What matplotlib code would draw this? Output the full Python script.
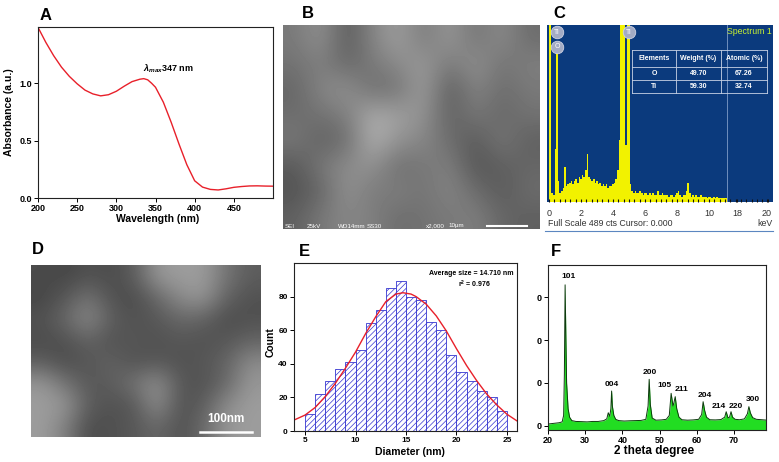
import matplotlib
matplotlib.use('Agg')
import matplotlib.pyplot as plt
import numpy as np

plt.rcParams['font.family'] = ['Liberation Sans', 'DejaVu Sans']
plt.rcParams['font.weight'] = 'bold'
plt.rcParams['axes.labelweight'] = 'bold'
plt.rcParams['mathtext.fontset'] = 'custom'
plt.rcParams['mathtext.rm'] = 'Liberation Sans:bold'
plt.rcParams['mathtext.it'] = 'Liberation Sans:italic:bold'
plt.rcParams['mathtext.bf'] = 'Liberation Sans:bold'
plt.rcParams['hatch.linewidth'] = 0.5

# ---- A: UV-Vis ----
uv_wavelength = [200, 210, 220, 230, 240, 250, 260, 270, 280, 290, 300, 310, 320, 330,
                 335, 340, 345, 350, 360, 370, 380, 390, 400, 410, 420, 430, 440, 450,
                 460, 470, 480, 490, 500]
uv_absorbance = [1.487, 1.356, 1.24, 1.14, 1.06, 0.995, 0.94, 0.907, 0.89, 0.90, 0.93,
                 0.974, 1.014, 1.035, 1.04, 1.03, 1.0, 0.965, 0.835, 0.66, 0.47, 0.29,
                 0.15, 0.095, 0.075, 0.07, 0.08, 0.093, 0.10, 0.105, 0.106, 0.104, 0.103]

# ---- B: SEM brightness (rows top -> bottom) ----
sem_gray = [
    [120, 140, 95, 130, 150, 120, 145, 115, 135, 110],
    [115, 125, 105, 120, 135, 145, 120, 140, 115, 125],
    [105, 130, 140, 110, 115, 150, 95, 130, 110, 120],
    [110, 115, 125, 160, 150, 140, 100, 120, 105, 115],
    [120, 100, 110, 165, 140, 130, 110, 95, 120, 100],
    [95, 120, 135, 140, 110, 120, 125, 90, 100, 105],
    [90, 105, 140, 120, 125, 115, 130, 110, 95, 110],
    [100, 120, 130, 125, 110, 115, 120, 125, 105, 100],
]

# ---- C: EDS spectrum, channels of 0.1 keV from 0.0 keV (% of full scale) ----
eds_counts = [
    120, 120, 5, 4, 30, 86, 12, 5, 6, 8,
    20, 9, 10, 11, 12, 10, 12, 13, 11, 14,
    13, 15, 14, 18, 27, 14, 13, 12, 13, 11,
    12, 10, 11, 9, 10, 9, 10, 8, 9, 9,
    10, 11, 13, 18, 35, 120, 120, 120, 32, 120,
    120, 10, 6, 5, 6, 5, 5, 6, 5, 4,
    5, 5, 4, 5, 4, 5, 4, 4, 6, 4,
    4, 5, 4, 4, 4, 3, 4, 4, 3, 4,
    5, 6, 4, 3, 4, 4, 6, 11, 5, 3,
    4, 3, 4, 3, 3, 4, 3, 3, 3, 2,
    3, 3, 2, 3, 2, 3, 2, 2, 2, 2,
    2, 2,
]
eds_kev = np.arange(len(eds_counts)) * 0.1
eds_tick_pos = [0, 2, 4, 6, 8, 10, 11.75, 13.6]
eds_tick_labels = ['0', '2', '4', '6', '8', '10', '18', '20']
table_header = ['Elements', 'Weight (%)', 'Atomic (%)']
table_rows = [['O', '49.70', '67.26'], ['Ti', '59.30', '32.74']]

# ---- D: TEM brightness ----
tem_gray = [
    [75, 70, 80, 75, 90, 140, 145, 145, 110, 90],
    [70, 85, 110, 80, 75, 100, 130, 140, 95, 80],
    [80, 100, 130, 90, 80, 85, 100, 95, 75, 80],
    [75, 80, 95, 80, 85, 80, 85, 80, 85, 95],
    [90, 75, 85, 95, 80, 85, 80, 85, 95, 130],
    [140, 110, 85, 90, 110, 135, 85, 80, 100, 140],
    [145, 140, 90, 80, 85, 135, 80, 90, 130, 145],
    [145, 120, 75, 80, 85, 100, 80, 100, 140, 145],
]

# ---- E: size histogram ----
size_bin_left = [5, 6, 7, 8, 9, 10, 11, 12, 13, 14, 15, 16, 17, 18, 19, 20, 21, 22, 23, 24]
size_count = [10, 22, 30, 37, 41, 48, 64, 72, 85, 89, 80, 78, 65, 60, 45, 35, 30, 24, 20, 12]
fit_x = [3.9, 5, 6, 7, 8, 9, 10, 11, 12, 13, 14, 14.7, 15.5, 16, 17, 18, 19, 20, 21, 22,
         23, 24, 25, 26]
fit_y = [6.5, 9.5, 14, 20.5, 28.4, 37.4, 47, 58, 68, 77, 81.5, 82.3, 81.5, 80, 75.5, 68.5,
         59.5, 49, 39, 30, 22, 15.5, 10, 6]

# ---- F: XRD ----
xrd_2theta = [20.0, 21.0, 22.0, 23.0, 23.8, 24.2, 24.4, 24.6, 24.8, 25.0,
              25.4, 25.8, 26.4, 27.5, 29.0, 30.5, 32.0, 33.5, 35.0, 35.8,
              36.2, 36.6, 36.9, 37.1, 37.3, 37.7, 38.2, 39.0, 40.5, 42.0,
              43.5, 45.0, 46.3, 46.9, 47.2, 47.5, 48.0, 49.0, 50.5, 51.8,
              52.6, 53.1, 53.6, 53.8, 54.2, 54.6, 55.2, 56.0, 57.5, 59.0,
              60.5, 61.3, 61.7, 62.1, 62.6, 63.5, 65.0, 66.5, 67.5, 67.9,
              68.4, 68.8, 69.2, 69.6, 70.3, 71.5, 72.8, 73.6, 74.0, 74.4,
              75.0, 76.0, 77.5, 78.6]
xrd_intensity = [120, 125, 130, 135, 145, 220, 700, 1748, 1150, 600,
                 300, 200, 160, 150, 148, 145, 150, 150, 160, 180,
                 252, 210, 300, 506, 330, 220, 175, 160, 155, 158,
                 160, 162, 175, 330, 643, 350, 190, 165, 168, 175,
                 220, 479, 330, 360, 440, 300, 200, 170, 165, 168,
                 175, 230, 381, 280, 200, 170, 168, 172, 200, 264,
                 190, 200, 264, 200, 175, 170, 180, 240, 323, 250,
                 195, 175, 170, 166]
xrd_peak_labels = ['101', '004', '200', '105', '211', '204', '214', '220', '300']

W, H = 779, 462


def box(x0, y0, x1, y1):
    return [x0 / W, 1 - y1 / H, (x1 - x0) / W, (y1 - y0) / H]


def frame(ax):
    for s in ax.spines.values():
        s.set_linewidth(0.8)
        s.set_color('#222222')
    ax.tick_params(direction='out', length=3, width=0.7, labelsize=6.5, pad=1.5)


fig = plt.figure(figsize=(7.79, 4.62), dpi=100)
fig.patch.set_facecolor('white')

# A
axa = fig.add_axes(box(38, 27, 273, 198))
axa.plot(uv_wavelength, uv_absorbance, color='#e8202a', lw=1.0)
axa.set_xlim(200, 500)
axa.set_ylim(0, 1.49)
axa.set_xticks([200, 250, 300, 350, 400, 450])
axa.set_yticks([0, 0.5, 1.0])
axa.set_yticklabels(['0.0', '0.5', '1.0'])
frame(axa)
axa.text(334, 1.125, r'$\lambda_{max}$347 nm', fontsize=6.5, ha='left', va='center')

# B
axb = fig.add_axes(box(283, 25, 540, 229))
axb.imshow(np.array(sem_gray), cmap='gray', vmin=25, vmax=225, interpolation='bicubic',
           aspect='auto')
axb.axis('off')

# C
axc = fig.add_axes(box(547, 25, 773, 202))
axc.set_facecolor('#0b3a7d')
axc.fill_between(eds_kev, 0, eds_counts, step='mid', color='#f2f200', lw=0)
axc.axvline(11.1, color='#7f9cc8', lw=0.6)
axc.set_xlim(-0.12, 14.0)
axc.set_ylim(0, 100)
for s in axc.spines.values():
    s.set_visible(False)
axc.set_yticks([])
axc.set_xticks(eds_tick_pos)
axc.set_xticklabels(eds_tick_labels, fontweight='normal', color='#333333')
axc.set_xticks(np.arange(0, 14.0, 1 / 3), minor=True)
axc.tick_params(axis='x', which='both', direction='in', length=2.5, width=0.8,
                color='#111111', labelsize=6.5, pad=5)

# D
axd = fig.add_axes(box(31, 265, 261, 437))
axd.imshow(np.array(tem_gray), cmap='gray', vmin=10, vmax=230, interpolation='bicubic',
           aspect='auto')
axd.axis('off')

# E
axe = fig.add_axes(box(294, 263, 517, 431))
axe.bar(size_bin_left, size_count, width=1, align='edge', facecolor='white',
        edgecolor='#3535d0', hatch='//////', lw=0.6)
axe.plot(fit_x, fit_y, color='#e8202a', lw=1.0)
axe.set_xlim(3.9, 26)
axe.set_ylim(0, 100)
axe.set_xticks([5, 10, 15, 20, 25])
axe.set_yticks([0, 20, 40, 60, 80])
frame(axe)
axe.tick_params(labelsize=6)
axe.text(0.985, 0.94, 'Average size = 14.710 nm', transform=axe.transAxes, fontsize=5,
         ha='right', va='center')
axe.text(0.735, 0.87, r'r$^{2}$ = 0.976', transform=axe.transAxes, fontsize=5,
         ha='left', va='center')

# F
axf = fig.add_axes(box(548, 265, 766, 430))
axf.fill_between(xrd_2theta, 50, xrd_intensity, color='#22dd22', lw=0)
axf.plot(xrd_2theta, xrd_intensity, color='#0d3a0d', lw=0.7)
axf.set_xlim(20, 78.6)
axf.set_ylim(50, 1980)
axf.set_xticks([20, 30, 40, 50, 60, 70])
axf.set_yticks([100, 600, 1100, 1600])
axf.set_yticklabels(['0', '0', '0', '0'])
frame(axf)
label_x = [25.6, 37.2, 47.3, 51.4, 56.0, 62.2, 65.9, 70.4, 75.1]
label_y = [1846, 588, 721, 576, 526, 451, 323, 323, 408]
for t, lx, ly in zip(xrd_peak_labels, label_x, label_y):
    axf.text(lx, ly, t, fontsize=6, ha='center', va='center')

# overlay for figure-level texts in pixel coordinates
ov = fig.add_axes([0, 0, 1, 1])
ov.set_xlim(0, W)
ov.set_ylim(H, 0)
ov.axis('off')
ov.patch.set_alpha(0)
ov.set_zorder(10)

for lab, x, y in [('A', 40, 15), ('B', 302, 13), ('C', 553, 14),
                  ('D', 32, 250), ('E', 299, 252), ('F', 551, 252)]:
    ov.text(x, y, lab, fontsize=12, ha='left', va='center')

ov.text(9.5, 112, 'Absorbance (a.u.)', fontsize=7.5, rotation=90, ha='center', va='center')
ov.text(158, 219.5, 'Wavelength (nm)', fontsize=7.5, ha='center', va='center')
ov.text(271, 342, 'Count', fontsize=7.5, rotation=90, ha='center', va='center')
ov.text(410, 452, 'Diameter (nm)', fontsize=7.5, ha='center', va='center')
ov.text(654, 451, '2 theta degree', fontsize=8.5, ha='center', va='center')

# SEM info bar
for t, x in [('SEI', 285), ('25kV', 307), ('WD14mm', 338), ('SS30', 367),
             ('x2,000', 426), ('10µm', 448)]:
    ov.text(x, 226, t, fontsize=4.5, color='white', fontweight='normal',
            ha='left', va='center')
ov.plot([487, 527], [226, 226], color='white', lw=1.5)

# TEM scale bar
ov.plot([200, 252], [432, 432], color='white', lw=1.8)
ov.text(226, 419, '100nm', fontsize=8.5, color='white', ha='center', va='center')

# EDS decorations
ov.text(772, 32, 'Spectrum 1', fontsize=6.3, color='#c8f032', fontweight='normal',
        ha='right', va='center')
col_edges = [632, 676, 721, 767]
row_edges = [50, 67, 80, 93]
for x in col_edges:
    ov.plot([x, x], [row_edges[0], row_edges[-1]], color='#c8d2e6', lw=0.6)
for y in row_edges:
    ov.plot([col_edges[0], col_edges[-1]], [y, y], color='#c8d2e6', lw=0.6)
for j, t in enumerate(table_header):
    ov.text((col_edges[j] + col_edges[j + 1]) / 2, (row_edges[0] + row_edges[1]) / 2, t,
            fontsize=5, color='white', ha='center', va='center')
for i, row in enumerate(table_rows):
    for j, t in enumerate(row):
        ov.text((col_edges[j] + col_edges[j + 1]) / 2,
                (row_edges[i + 1] + row_edges[i + 2]) / 2, t,
                fontsize=5, color='white', ha='center', va='center')
for t, x, y in [('Ti', 557, 32), ('O', 557, 47), ('Ti', 629, 32)]:
    ov.plot([x], [y], 'o', ms=9, mfc='#a3abc4', mec='#d0d4e4', mew=0.6)
    ov.text(x, y, t, fontsize=5, color='white', fontweight='normal',
            ha='center', va='center')
ov.text(548, 223, 'Full Scale 489 cts Cursor: 0.000', fontsize=6.3, color='#333333',
        fontweight='normal', ha='left', va='center')
ov.text(773, 223, 'keV', fontsize=6.3, color='#333333', fontweight='normal',
        ha='right', va='center')
ov.plot([545, 773], [231, 231], color='#5b86c0', lw=0.8)

fig.savefig('out.png', dpi=100, facecolor='white')
